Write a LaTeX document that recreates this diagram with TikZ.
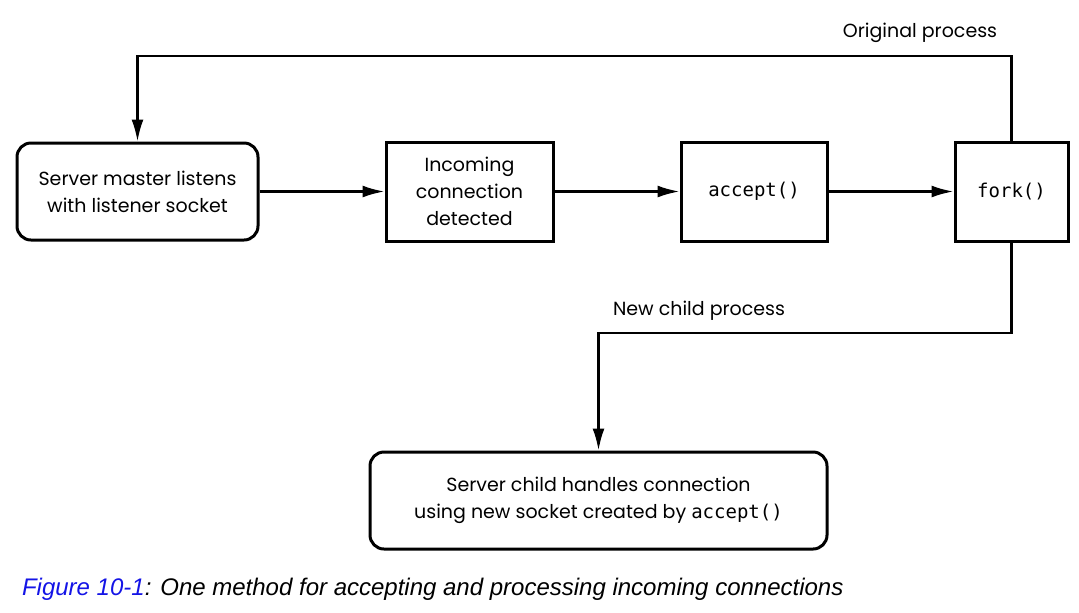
\documentclass[tikz,border=0pt]{standalone}
\usepackage{fontspec}
\setmainfont{Poppins}
\setmonofont{DejaVu Sans Mono}
\newfontfamily\capfont{Liberation Sans}
\usetikzlibrary{arrows.meta,positioning}
\definecolor{capblue}{RGB}{20,20,230}

\begin{document}
\begin{tikzpicture}[x=0.5pt,y=-0.5pt,
    flowbox/.style={draw, line width=1.5pt, align=center, font=\fontsize{9.5}{13.5}\selectfont, inner sep=0pt},
    roundbox/.style={flowbox, rounded corners=7pt},
    flow/.style={-{Latex[length=11pt,width=6pt]}, line width=1.2pt},
    lbl/.style={font=\fontsize{9.5}{12}\selectfont}]
    \useasboundingbox (0,0) rectangle (1079,612);
    \node[roundbox, minimum width=120.5pt, minimum height=48.5pt] (master) at (137.5,191.5) {Server master listens\\with listener socket};
    \node[flowbox, minimum width=83.5pt, minimum height=49.5pt] (incoming) at (469.5,191.5) {Incoming\\connection\\detected};
    \node[flowbox, minimum width=73pt, minimum height=49.5pt] (accept) at (754,191.5) {\ttfamily accept()};
    \node[flowbox, minimum width=56.5pt, minimum height=49.5pt] (fork) at (1011.5,191.5) {\ttfamily fork()};
    \node[roundbox, minimum width=228.5pt, minimum height=48.5pt] (child) at (598.5,500.5) {Server child handles connection\\using new socket created by \texttt{accept()}};

    \coordinate (origin) at (1011.5,56);
    \coordinate (split) at (1011.5,333);
    \node[lbl] (origlbl) at (920,33) {Original process};
    \node[lbl] (childlbl) at (699,311) {New child process};

    \draw[flow] (master) -- (incoming);
    \draw[flow] (incoming) -- (accept);
    \draw[flow] (accept) -- (fork);
    \draw[flow] (fork.north) -- (origin) -| (master.north);
    \draw[flow] (fork.south) -- (split) -| (child.north);

    \node[anchor=base west, font=\capfont\itshape\fontsize{12}{14}\selectfont] (caption) at (15,595) {\textcolor{capblue}{Figure 10-1}: One method for accepting and processing incoming connections};
\end{tikzpicture}
\end{document}
